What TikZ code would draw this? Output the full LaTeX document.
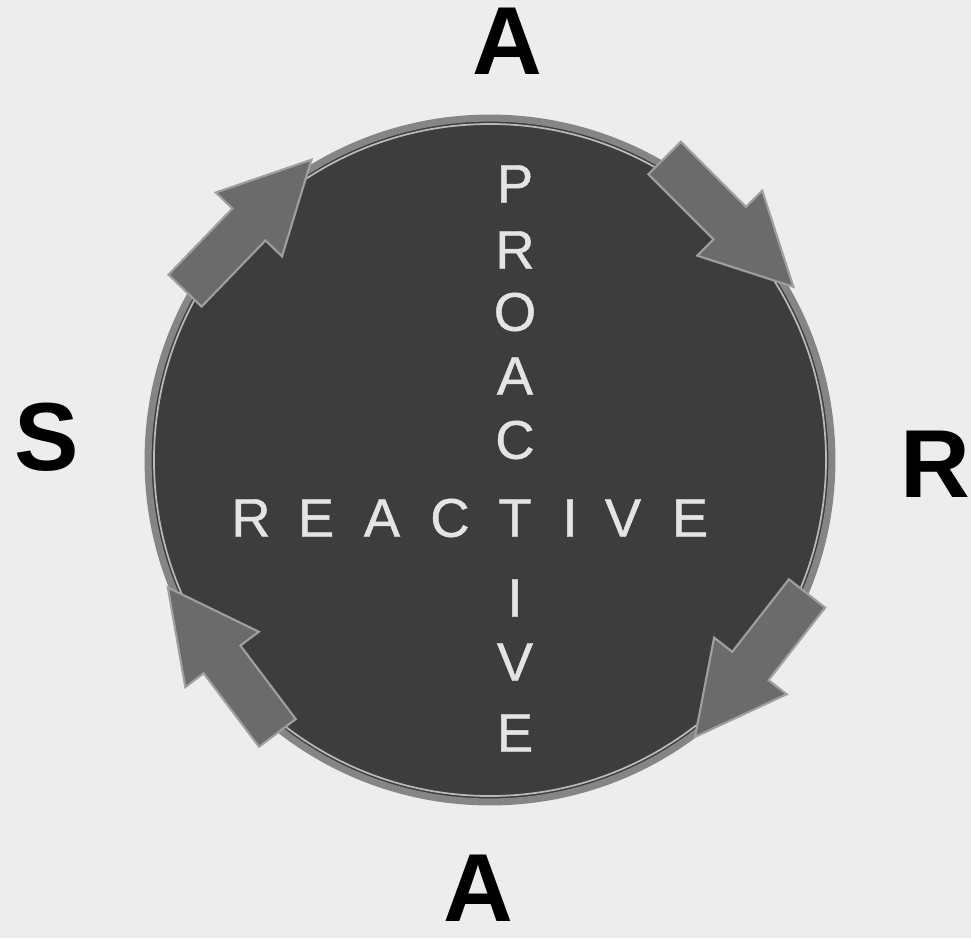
\documentclass[tikz,border=0pt]{standalone}
\usepackage{fontspec}
\setmainfont{Liberation Sans}
\newfontfamily\chalkfont[FakeBold=0.8]{Liberation Sans}
\usepackage{tikz}
\usetikzlibrary{calc}
\definecolor{paper}{HTML}{EDEDED}
\definecolor{disc}{HTML}{3D3D3D}
\definecolor{rim}{HTML}{858585}
\definecolor{arrowgray}{HTML}{6B6B6B}
\definecolor{chalk}{HTML}{E4E4E4}
\tikzset{
  cyclearrow/.style={fill=arrowgray, draw=gray!75, line width=1.2pt, line join=miter}
}

\begin{document}
\begin{tikzpicture}[x=0.02cm,y=0.02cm]
\useasboundingbox (-490,-478) rectangle (481,460);
\fill[paper] (-490,-478) rectangle (481,460);
\node[circle, fill=disc, draw=rim, line width=4pt, minimum size=13.68cm] (disc) at (0,0) {};
\draw[gray!55, line width=1pt] (disc.center) circle (336);
% arrows round the rim, clockwise
\foreach \pos/\rad in {136/337, 45/337, -38/332, 217/334}{
  \begin{scope}[shift={(\pos:\rad)}, rotate=\pos-90]
    \draw[cyclearrow] (-90,-23) -- (2,-23) -- (2,-46) -- (92,0) -- (2,46) -- (2,23) -- (-90,23) -- cycle;
  \end{scope}
}
\begin{scope}[every node/.style={text=chalk, font=\chalkfont\fontsize{31}{31}\selectfont, inner sep=0pt}]
  \foreach \ch/\y [count=\i] in {P/276, R/210, O/148, A/84, C/20, T/-58, I/-138, V/-202, E/-273}
    \node (pro\i) at (25,\y) {\ch};
  \foreach \ch/\x [count=\i] in {R/-239, E/-174, A/-108, C/-40, I/80, V/133, E/200}
    \node (re\i) at (\x,-58) {\ch};
\end{scope}
\begin{scope}[every node/.style={font=\bfseries\fontsize{55}{55}\selectfont, inner sep=0pt}]
  \node (top) at (17,419) {A};
  \node (left) at (-443,23) {S};
  \node[anchor=west] (right) at (410,-4) {R};
  \node (bottom) at (-12,-428) {A};
\end{scope}
\end{tikzpicture}
\end{document}
